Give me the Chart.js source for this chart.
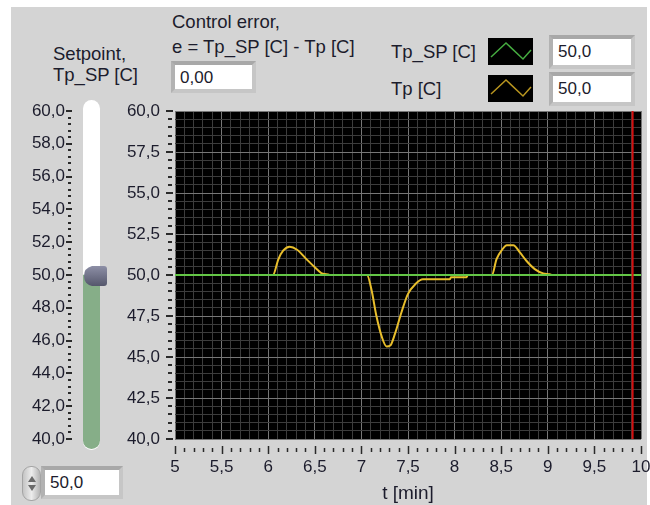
<!DOCTYPE html>
<html>
<head>
<meta charset="utf-8">
<script src="https://cdn.jsdelivr.net/npm/chart.js@4.4.0/dist/chart.umd.min.js"></script>
<style>
    body { margin: 0; width: 650px; height: 505px; background: #ffffff; overflow: hidden;
           font-family: "Liberation Sans", Arial, sans-serif; color: #1c1c2c; }
    #panel { position: absolute; left: 11px; top: 7px; width: 636px; height: 498px; background: #d4d4d4; }
    .lbl { position: absolute; font-size: 18.5px; white-space: nowrap; line-height: 22px; }
    .box { position: absolute; background: #ffffff; font-size: 17px; line-height: 25px;
           padding-left: 5px; box-sizing: border-box;
           border: 4px solid #c6c6c6; border-top-color: #a8a8a8; border-left-color: #b2b2b2; }
    .swatch { position: absolute; background: #000000; width: 45px; height: 27px; }
    canvas { position: absolute; }
    #track { position: absolute; left: 83px; top: 100px; width: 17px; height: 350px;
             background: #ffffff; border-radius: 9px; }
    #trackEnd { position: absolute; left: 83px; top: 436px; width: 17px; height: 13px;
                background: #86ae88; border-radius: 0 0 9px 9px; }
    #spin { position: absolute; left: 22px; top: 466px; width: 17px; height: 33px;
            border-radius: 9px; background: linear-gradient(90deg, #c4c4c4, #ececec, #b4b4b4);
            border: 1px solid #a4a4a4; }
    .arrow { position: absolute; left: 5px; width: 0; height: 0;
             border-left: 4px solid transparent; border-right: 4px solid transparent; }
</style>
</head>
<body>
<div id="panel"></div>

<div class="lbl" style="left:53px; top:43px;">Setpoint,</div>
<div class="lbl" style="left:53px; top:64px;">Tp_SP [C]</div>
<div class="lbl" style="left:172px; top:11px;">Control error,</div>
<div class="lbl" style="left:172px; top:36px;">e = Tp_SP [C] - Tp [C]</div>
<div class="box" id="errorBox" style="left:171px; top:61px; width:85px; height:32px;"></div>

<div id="legend"></div>

<div id="track"></div>
<div id="trackEnd"></div>
<canvas id="sliderChart" width="120" height="505" style="left:0; top:0;"></canvas>
<canvas id="myChart" width="540" height="505" style="left:110px; top:0;"></canvas>

<div id="spin">
    <div class="arrow" style="top:9px; border-bottom:6px solid #6a6a6a;"></div>
    <div class="arrow" style="top:18px; border-top:6px solid #6a6a6a;"></div>
</div>
<div class="box" id="setpointBox" style="left:41px; top:466px; width:82px; height:33px;"></div>

<script>
// values
var setpoint = 50;

var spTimes = [5, 10];
var spValues = [50, 50];

var tpTimes = [5, 6.05, 6.11, 6.16, 6.23, 6.31, 6.41, 6.50, 6.57, 6.63, 6.66,
    7.06, 7.11, 7.16, 7.22, 7.27, 7.31, 7.36, 7.43, 7.50, 7.58, 7.66, 7.95, 7.96, 8.13, 8.14,
    8.40, 8.45, 8.51, 8.56, 8.63, 8.70, 8.77, 8.86, 8.95, 9.02, 9.05, 9.91];
var tpValues = [50, 50, 50.97, 51.48, 51.72, 51.54, 50.97, 50.47, 50.12, 50.05, 50,
    50, 49.05, 47.53, 46.21, 45.64, 45.7, 46.41, 47.73, 48.85, 49.45, 49.74, 49.74, 49.86, 49.87, 50,
    50, 50.97, 51.54, 51.82, 51.82, 51.38, 50.87, 50.36, 50.10, 50.05, 50, 50];

var cursorTime = 9.91;

var timeRange = [5, 10];
var tempRange = [40, 60];
var sliderRange = [40, 60];

var spColor = '#63c646';
var tpColor = '#e8be2c';

function comma(v, digits) {
    return v.toFixed(digits).replace('.', ',');
}

function isMultiple(v, step) {
    return Math.abs(v / step - Math.round(v / step)) < 1e-6;
}

// legend rows and the numeric indicators beside them
var legendRows = [
    { label: 'Tp_SP [C]', color: '#45ab40', value: spValues[spValues.length - 1], top: 38 },
    { label: 'Tp [C]', color: '#b8951f', value: tpValues[tpValues.length - 1], top: 75 }
];
var legendHtml = '';
legendRows.forEach(function(row) {
    legendHtml += '<div class="lbl" style="left:391px; top:' + (row.top + 3) + 'px;">' + row.label + '</div>';
    legendHtml += '<div class="swatch" style="left:488px; top:' + row.top + 'px;">' +
        '<svg width="45" height="27"><polyline points="3,19 18,5 35,21 43,12" fill="none" stroke="' +
        row.color + '" stroke-width="1.5"/></svg></div>';
    legendHtml += '<div class="box" style="left:549px; top:' + (row.top - 3) + 'px; width:86px; height:34px;">' +
        comma(row.value, 1) + '</div>';
});
document.getElementById('legend').innerHTML = legendHtml;
document.getElementById('errorBox').textContent = comma(setpoint - tpValues[tpValues.length - 1], 2);
document.getElementById('setpointBox').textContent = comma(setpoint, 1);

function toPoints(xs, ys) {
    return xs.map(function(x, i) { return { x: x, y: ys[i] }; });
}

// small dashes outside the plot, longer on the labelled values
function tickMarkPlugin(id, majorY, majorX, yOffsets) {
    return {
        id: id,
        afterDraw: function(chart) {
            var ctx = chart.ctx;
            var area = chart.chartArea;
            ctx.save();
            ctx.strokeStyle = '#2a2a2a';
            ctx.lineWidth = 2;
            var ys = chart.scales.y;
            ys.ticks.forEach(function(t) {
                var p = Math.round(ys.getPixelForValue(t.value));
                var major = isMultiple(t.value, majorY);
                ctx.beginPath();
                ctx.moveTo(area.left - (major ? yOffsets[0] : yOffsets[1]), p);
                ctx.lineTo(area.left - (major ? yOffsets[2] : yOffsets[3]), p);
                ctx.stroke();
            });
            if (majorX) {
                var xs = chart.scales.x;
                ctx.lineWidth = 1.5;
                xs.ticks.forEach(function(t) {
                    var p = Math.round(xs.getPixelForValue(t.value)) + 0.5;
                    var major = isMultiple(t.value, majorX);
                    ctx.beginPath();
                    ctx.moveTo(p, area.bottom + (major ? 7 : 9));
                    ctx.lineTo(p, area.bottom + (major ? 15 : 13));
                    ctx.stroke();
                });
            }
            ctx.restore();
        }
    };
}

var tickFont = { family: '"Liberation Sans", Arial, sans-serif', size: 17 };

var chart = new Chart(document.getElementById('myChart').getContext('2d'), {
    type: 'line',
    data: {
        datasets: [{
            label: 'cursor',
            data: [{ x: cursorTime, y: tempRange[0] }, { x: cursorTime, y: tempRange[1] }],
            borderColor: '#d40f0f',
            borderWidth: 2
        }, {
            label: 'Tp_SP [C]',
            data: toPoints(spTimes, spValues),
            borderColor: spColor,
            borderWidth: 2
        }, {
            label: 'Tp [C]',
            data: toPoints(tpTimes, tpValues),
            borderColor: tpColor,
            borderWidth: 2,
            cubicInterpolationMode: 'monotone'
        }]
    },
    options: {
        responsive: false,
        animation: false,
        devicePixelRatio: 1,
        elements: { point: { radius: 0 } },
        layout: { padding: { left: 15, right: 9, top: 111, bottom: 0 } },
        plugins: { legend: { display: false }, tooltip: { enabled: false } },
        scales: {
            x: {
                type: 'linear',
                min: timeRange[0],
                max: timeRange[1],
                border: { display: false },
                grid: {
                    drawTicks: false,
                    color: function(c) { return isMultiple(c.tick.value, 0.5) ? '#767676' : '#3c3c3c'; }
                },
                ticks: {
                    stepSize: 0.1,
                    autoSkip: false,
                    maxRotation: 0,
                    padding: 18,
                    color: '#1c1c2c',
                    font: tickFont,
                    callback: function(v) { return isMultiple(v, 0.5) ? String(Math.round(v * 10) / 10).replace('.', ',') : ''; }
                },
                title: {
                    display: true,
                    text: 't [min]',
                    color: '#1c1c2c',
                    font: { family: '"Liberation Sans", Arial, sans-serif', size: 19 },
                    padding: 0
                },
                afterFit: function(s) {
                    s.height = 66;
                    s.paddingLeft = 0;
                    s.paddingRight = 0;
                }
            },
            y: {
                min: tempRange[0],
                max: tempRange[1],
                border: { display: false },
                grid: {
                    drawTicks: false,
                    color: function(c) { return isMultiple(c.tick.value, 2.5) ? '#767676' : '#3c3c3c'; }
                },
                ticks: {
                    stepSize: 0.5,
                    autoSkip: false,
                    padding: 15,
                    color: '#1c1c2c',
                    font: tickFont,
                    callback: function(v) { return isMultiple(v, 2.5) ? comma(v, 1) : ''; }
                },
                afterFit: function(s) {
                    s.width = 50;
                    s.paddingTop = 0;
                    s.paddingBottom = 0;
                }
            }
        }
    },
    plugins: [{
        id: 'plotBackground',
        beforeDraw: function(c) {
            var a = c.chartArea;
            c.ctx.save();
            c.ctx.fillStyle = '#000000';
            c.ctx.fillRect(a.left, a.top, a.right - a.left, a.bottom - a.top);
            c.ctx.restore();
        }
    }, tickMarkPlugin('mainTicks', 2.5, 0.5, [9, 7, 2, 3])]
});

// setpoint slider: filled bar up to the setpoint, knob on top
var slider = new Chart(document.getElementById('sliderChart').getContext('2d'), {
    type: 'bar',
    data: {
        labels: ['Setpoint'],
        datasets: [{
            data: [[sliderRange[0], setpoint]],
            backgroundColor: '#86ae88',
            barPercentage: 1,
            categoryPercentage: 1
        }]
    },
    options: {
        responsive: false,
        animation: false,
        devicePixelRatio: 1,
        layout: { padding: { left: 0, right: 20, top: 111, bottom: 66 } },
        plugins: { legend: { display: false }, tooltip: { enabled: false } },
        scales: {
            x: { display: false },
            y: {
                min: sliderRange[0],
                max: sliderRange[1],
                border: { display: false },
                grid: { display: false, drawTicks: false },
                ticks: {
                    stepSize: 0.4,
                    autoSkip: false,
                    padding: 18,
                    color: '#1c1c2c',
                    font: tickFont,
                    callback: function(v) { return isMultiple(v, 2) ? comma(v, 1) : ''; }
                },
                afterFit: function(s) {
                    s.width = 83;
                    s.paddingTop = 0;
                    s.paddingBottom = 0;
                }
            }
        }
    },
    plugins: [tickMarkPlugin('sliderTicks', 2, null, [17, 15, 11, 12]), {
        id: 'knob',
        afterDatasetsDraw: function(c) {
            var ctx = c.ctx;
            var y = c.scales.y.getPixelForValue(setpoint) + 1;
            var left = c.chartArea.left + 1;
            var grad = ctx.createLinearGradient(0, y - 10, 0, y + 10);
            grad.addColorStop(0, '#8d8fa6');
            grad.addColorStop(1, '#55576c');
            ctx.save();
            ctx.fillStyle = grad;
            ctx.beginPath();
            ctx.moveTo(left + 8, y - 10);
            ctx.lineTo(left + 20, y - 10);
            ctx.quadraticCurveTo(left + 23, y - 10, left + 23, y - 7);
            ctx.lineTo(left + 23, y + 7);
            ctx.quadraticCurveTo(left + 23, y + 10, left + 20, y + 10);
            ctx.lineTo(left + 8, y + 10);
            ctx.quadraticCurveTo(left, y + 8, left, y);
            ctx.quadraticCurveTo(left, y - 8, left + 8, y - 10);
            ctx.fill();
            ctx.restore();
        }
    }]
});
</script>
</body>
</html>
